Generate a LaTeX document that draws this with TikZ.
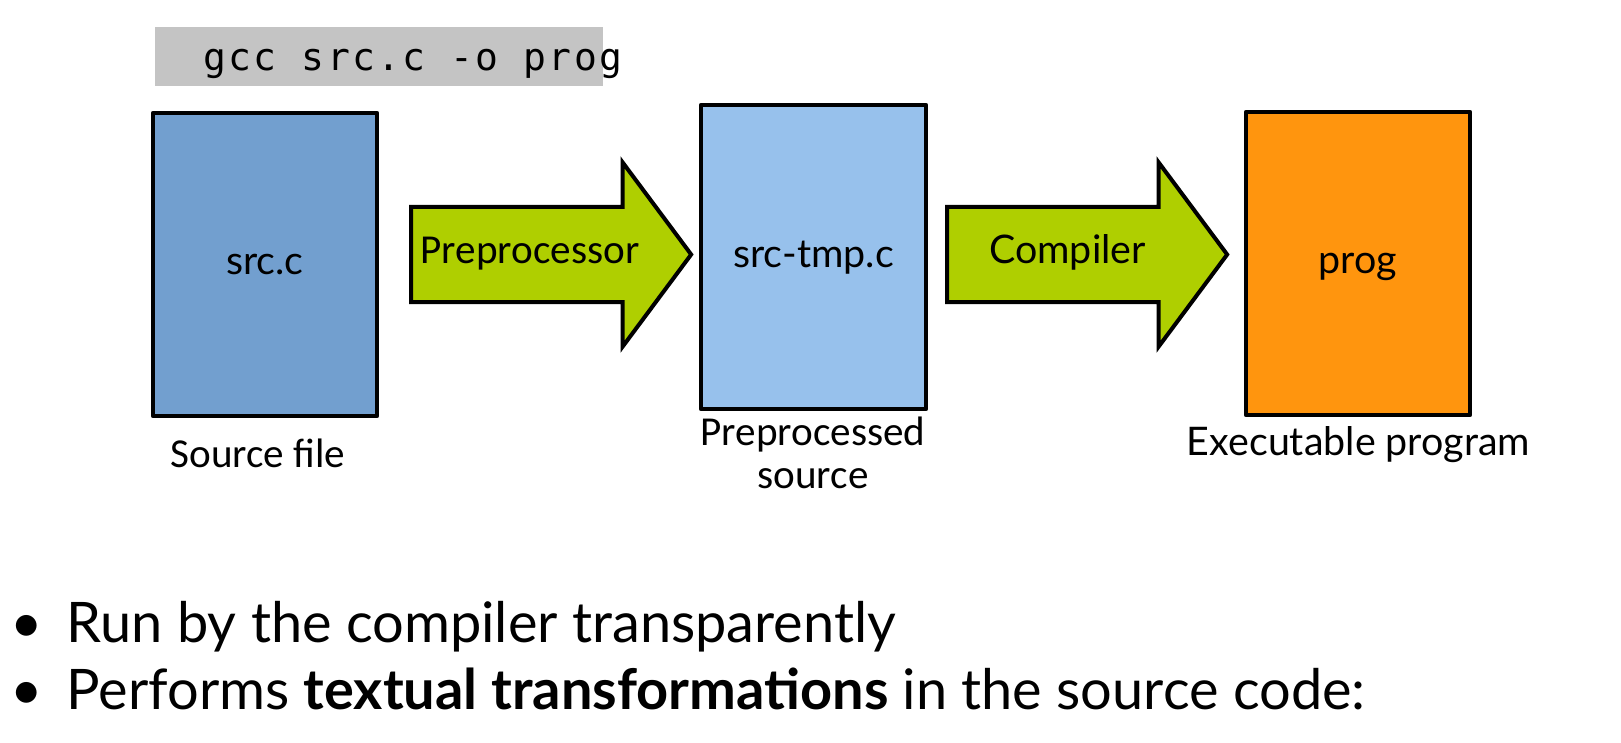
\documentclass[tikz,border=0pt]{standalone}
\usepackage{fontspec}
\setmainfont{Lato}
\newfontfamily\calibrifont{Carlito}
\newfontfamily\cmdfont{DejaVu Sans Mono}[LetterSpace=6]
\usetikzlibrary{shapes.arrows}
\definecolor{srcblue}{HTML}{729FCF}
\definecolor{tmpblue}{HTML}{97C1EC}
\definecolor{progorange}{HTML}{FF950E}
\definecolor{stagegreen}{HTML}{AFCF00}
\definecolor{cmdgray}{HTML}{C4C4C4}

\tikzset{
  filebox/.style={rectangle, draw=black, line width=0.04cm, line join=round,
    minimum width=2.24cm, minimum height=3.03cm, inner sep=0pt,
    font=\fontsize{11.2}{14}\selectfont, text height=0.2cm, text depth=0pt},
  stagearrow/.style={single arrow, draw=black, fill=stagegreen, line width=0.04cm,
    inner xsep=0pt, inner ysep=0.455cm, minimum height=2.8cm,
    single arrow head extend=0.445cm, single arrow tip angle=106.7, anchor=tail},
  stagetext/.style={anchor=base, inner sep=0pt, font=\fontsize{11.2}{14}\selectfont},
  filecaption/.style={anchor=base, inner sep=0pt, align=center,
    font=\fontsize{11.2}{12.2}\selectfont},
  bullettext/.style={anchor=base west, inner sep=0pt, font=\fontsize{15.9}{19}\selectfont},
  bulletdot/.style={anchor=base, inner sep=0pt, font=\fontsize{15.9}{19}\selectfont}
}

\begin{document}
\begin{tikzpicture}[x=0.01cm, y=-0.01cm]
\useasboundingbox (0,0) rectangle (1621,742);

% command line
\fill[cmdgray] (155,27) rectangle (603,86);
\node[anchor=base west, inner sep=0pt, font=\cmdfont\fontsize{10.8}{13}\selectfont]
  (cmd) at (203,70) {gcc src.c -o prog};

% files
\node[filebox, fill=srcblue]    (src)  at (265,264.5)  {src.c};
\node[filebox, fill=tmpblue, minimum width=2.25cm, minimum height=3.04cm]
                                (tmp)  at (813.5,257)  {src-tmp.c};
\node[filebox, fill=progorange] (prog) at (1358,263.5) {prog};

% stages
\node[stagearrow] (pre)  at (409,254.5) {};
\node[stagearrow] (comp) at (945,254.5) {};
\node[stagetext, font=\calibrifont\fontsize{11.7}{14}\selectfont] (pretxt) at (530,263) {Preprocessor};
\node[stagetext] (comptxt) at (1067.5,263) {Compiler};

% captions
\node[filecaption, font=\calibrifont\fontsize{11.7}{12.2}\selectfont] (srccap) at (258,467) {Source file};
\node[filecaption, font=\calibrifont\fontsize{11.7}{12.2}\selectfont] (tmpcap) at (813,488) {Preprocessed\\source};
\node[filecaption] (progcap) at (1358.5,455) {Executable program};

% bullets
\node[bulletdot] (dota) at (27,642) {•};
\node[bullettext] (runby) at (66,642) {Run by the compiler transparently};
\node[bulletdot] (dotb) at (27,709) {•};
\node[bullettext] (performs) at (66,709) {Performs \textbf{textual transformations} in the source code:};
\end{tikzpicture}
\end{document}
